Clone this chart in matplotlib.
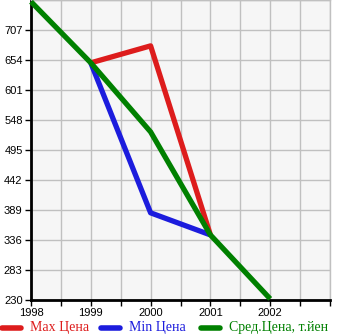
import matplotlib
matplotlib.use("Agg")
import matplotlib.pyplot as plt
from matplotlib.lines import Line2D
from matplotlib.ticker import MultipleLocator

years = [1998, 1999, 2000, 2001, 2002]
max_years = [1999, 2000, 2001]
max_price = [649, 679, 345]
min_years = [1999, 2000, 2001]
min_price = [649, 384, 345]
avg_years = [1998, 1999, 2000, 2001, 2002]
avg_price = [757, 649, 527, 345, 232]
y_ticks = [230, 283, 336, 389, 442, 495, 548, 601, 654, 707]

RED = "#dd1c1c"
BLUE = "#1c1cdd"
GREEN = "#008000"

W, H = 345, 335
fig = plt.figure(figsize=(W / 100, H / 100), dpi=100)
ax = fig.add_axes([31 / W, 35 / H, 299 / W, 300 / H])
ax.set_facecolor("#f6f6f6")

ax.set_xlim(1998, 2003)
ax.set_ylim(230, 760)
ax.set_xticks(years)
ax.xaxis.set_minor_locator(MultipleLocator(0.5))
ax.set_yticks(y_ticks)
ax.set_yticks([760], minor=True)
ax.grid(True, which="both", color="#c0c0c0", linewidth=1.0)
ax.set_axisbelow(True)

for s in ["top", "right"]:
    ax.spines[s].set_color("#c0c0c0")
    ax.spines[s].set_linewidth(1.0)
for s in ["left", "bottom"]:
    ax.spines[s].set_color("black")
    ax.spines[s].set_linewidth(2.0)

ax.tick_params(axis="both", which="major", length=4, width=1, labelsize=8,
               colors="black", pad=2)
ax.tick_params(axis="x", which="minor", length=4, width=1)
ax.tick_params(axis="y", which="minor", length=0)
for lbl in ax.get_xticklabels() + ax.get_yticklabels():
    lbl.set_family("Liberation Sans")

lw = 3.8
ax.plot(max_years, max_price, color=RED, linewidth=lw, solid_capstyle="butt", zorder=3)
ax.plot(min_years, min_price, color=BLUE, linewidth=lw, solid_capstyle="butt", zorder=4)
ax.plot(avg_years, avg_price, color=GREEN, linewidth=lw, solid_capstyle="butt", zorder=5,
        clip_on=False)

# legend row under the axes
legend_items = [("Max Цена", RED, 0), ("Min Цена", BLUE, 99), ("Сред.Цена, т.йен", GREEN, 199)]
ly = 1 - 328 / H
for label, color, x0 in legend_items:
    fig.add_artist(Line2D([(x0 + 2) / W, (x0 + 21) / W], [ly, ly], color=color,
                          linewidth=4, solid_capstyle="round",
                          transform=fig.transFigure))
    fig.text((x0 + 30) / W, ly, label, color=color, fontsize=10,
             family="Liberation Serif", va="center", ha="left")

fig.savefig("out.png", dpi=100)
